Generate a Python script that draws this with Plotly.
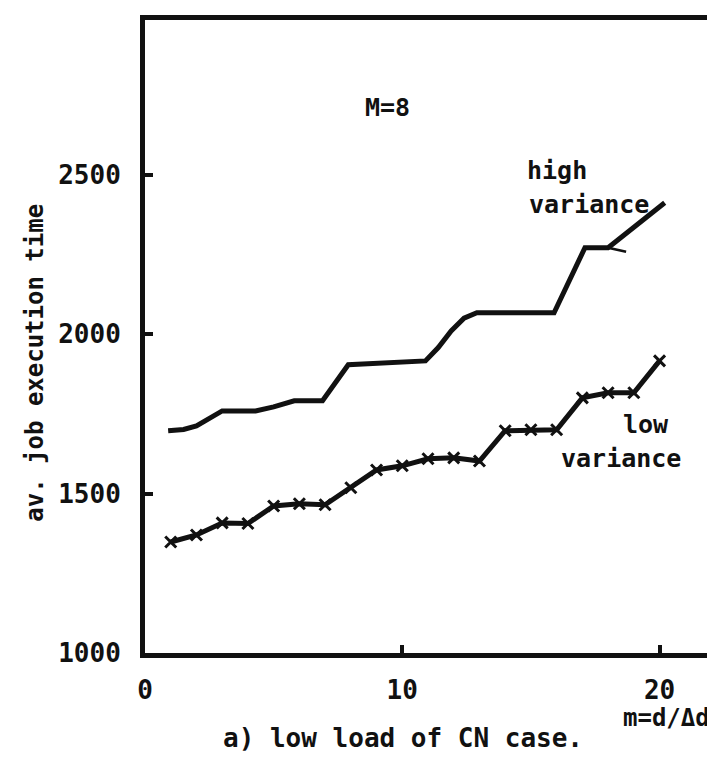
import plotly.graph_objects as go

# ---- data ----
low_x = [1, 2, 3, 4, 5, 6, 7, 8, 9, 10, 11, 12, 13, 14, 15, 16, 17, 18, 19, 20]
low_y = [1348, 1370, 1408, 1406, 1461, 1468, 1465, 1518, 1574, 1587, 1609, 1612, 1602,
         1697, 1700, 1700, 1800, 1816, 1816, 1916]

high_x = [0.9, 1.5, 2.0, 2.5, 3.0, 4.3, 5.0, 5.8, 6.9, 7.9, 10.9, 11.4, 11.9, 12.4, 12.9,
          15.9, 17.1, 18.0, 20.2]
high_y = [1697, 1701, 1712, 1734, 1759, 1759, 1772, 1791, 1791, 1904, 1916, 1958, 2010,
          2050, 2067, 2067, 2271, 2271, 2412]

tail_x = [18.0, 18.7]
tail_y = [2271, 2258]

x_ticks = [0, 10, 20]
y_ticks = [1000, 1500, 2000, 2500]

FONT = "DejaVu Sans Mono"
INK = "#111111"

fig = go.Figure()
fig.add_trace(go.Scatter(x=high_x, y=high_y, mode="lines",
                         line=dict(color=INK, width=5), showlegend=False))
fig.add_trace(go.Scatter(x=tail_x, y=tail_y, mode="lines",
                         line=dict(color=INK, width=2.5), showlegend=False))
fig.add_trace(go.Scatter(x=low_x, y=low_y, mode="lines+markers",
                         line=dict(color=INK, width=5),
                         marker=dict(symbol="x-thin", size=11,
                                     line=dict(color=INK, width=3)),
                         showlegend=False))

axis_common = dict(showgrid=False, zeroline=False, showline=True, mirror=True,
                   linecolor=INK, linewidth=5, ticks="inside", ticklen=8,
                   tickwidth=4, tickcolor=INK,
                   tickfont=dict(family=FONT, size=26, color=INK, weight="bold"))

fig.update_xaxes(range=[0, 22], tickvals=x_ticks, ticklabelstandoff=10, **axis_common)
fig.update_yaxes(range=[1000, 2985], tickvals=y_ticks, ticklabelstandoff=14, **axis_common)

def txt(x, y, s, xref="x", yref="y", size=25, angle=0, xanchor="center"):
    fig.add_annotation(x=x, y=y, xref=xref, yref=yref, text=s, showarrow=False,
                       textangle=angle, xanchor=xanchor, yanchor="middle",
                       font=dict(family=FONT, size=size, color=INK, weight="bold"))

txt(9.44, 2710, "M=8")
txt(16.0, 2512, "high")
txt(17.26, 2406, "variance")
txt(19.46, 1715, "low")
txt(18.5, 1609, "variance")

txt(0.921, -0.103, "m=d/Δd", xref="paper", yref="paper", size=24)
txt(0.455, -0.134, "a) low load of CN case.", xref="paper", yref="paper", size=26)
txt(-0.195, 0.458, "av. job execution time", xref="paper", yref="paper", size=24, angle=-90)

fig.update_layout(width=715, height=758,
                  margin=dict(l=137, r=7, t=12, b=113),
                  paper_bgcolor="white", plot_bgcolor="white")

fig.write_html("out.html")
